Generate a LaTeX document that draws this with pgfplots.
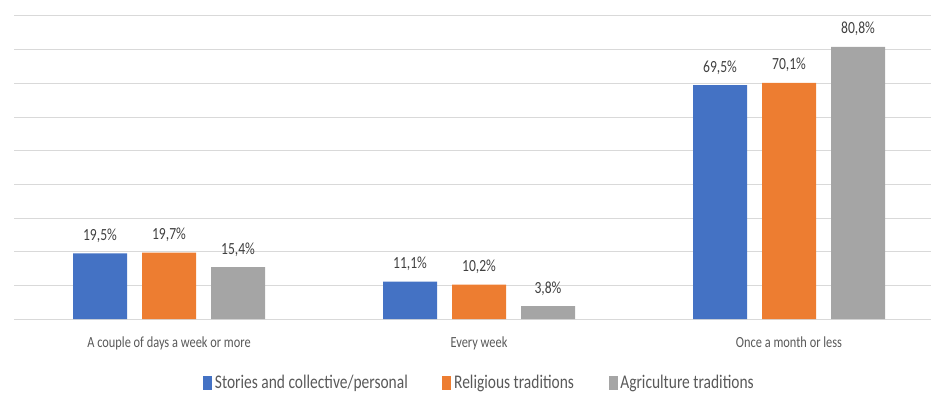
\documentclass[border=0pt]{standalone}
\usepackage{pgfplots}
\pgfplotsset{compat=1.18}
\usepackage{fontspec}
\setmainfont{Carlito}[FakeStretch=0.8]
\definecolor{cblue}{HTML}{4472C4}
\definecolor{corange}{HTML}{ED7D31}
\definecolor{cgray}{HTML}{A5A5A5}
\definecolor{gridgray}{HTML}{D9D9D9}
\definecolor{labgray}{HTML}{595959}
\definecolor{datgray}{HTML}{404040}
\begin{document}
\begin{tikzpicture}
\useasboundingbox (-10.5pt,-56.25pt) rectangle (687.75pt,239.25pt);
\begin{axis}[
  at={(0,0)}, anchor=south west,
  x=232.5pt, y=2.525pt,
  xmin=-0.5, xmax=2.458, ymin=0, ymax=90,
  ybar=11.25pt, bar width=40.5pt,
  xtick={0,1,2},
  xticklabels={A couple of days a week or more, Every week, Once a month or less},
  xticklabel style={font=\fontsize{11.6}{13}\selectfont, text=labgray, anchor=base, yshift=-21pt},
  ytick={0,10,...,90}, yticklabels={},
  ymajorgrids, grid style={draw=gridgray, line width=0.75pt},
  axis line style={draw=none},
  major tick length=0pt,
  nodes near coords, point meta=explicit symbolic,
  every node near coord/.append style={font=\fontsize{12.75}{14}\selectfont, text=datgray, anchor=base, yshift=9.75pt},
  legend columns=3,
  legend style={at={(0.508,-0.211)}, anchor=center, draw=none, fill=none,
    font=\fontsize{14.5}{16}\selectfont, text=labgray,
    nodes={inner xsep=2pt},
    /tikz/every odd column/.append style={column sep=0pt},
    /tikz/every even column/.append style={column sep=24pt}},
  legend image code/.code={\fill[#1] (0pt,-5pt) rectangle (6.75pt,5pt);},
]
\addplot[fill=cblue, draw=none] coordinates {(0,19.5) [19,5\%] (1,11.1) [11,1\%] (2,69.5) [69,5\%]};
\addplot[fill=corange, draw=none] coordinates {(0,19.7) [19,7\%] (1,10.2) [10,2\%] (2,70.1) [70,1\%]};
\addplot[fill=cgray, draw=none] coordinates {(0,15.4) [15,4\%] (1,3.8) [3,8\%] (2,80.8) [80,8\%]};
\legend{Stories and collective/personal, Religious traditions, Agriculture traditions}
\end{axis}
\end{tikzpicture}
\end{document}
